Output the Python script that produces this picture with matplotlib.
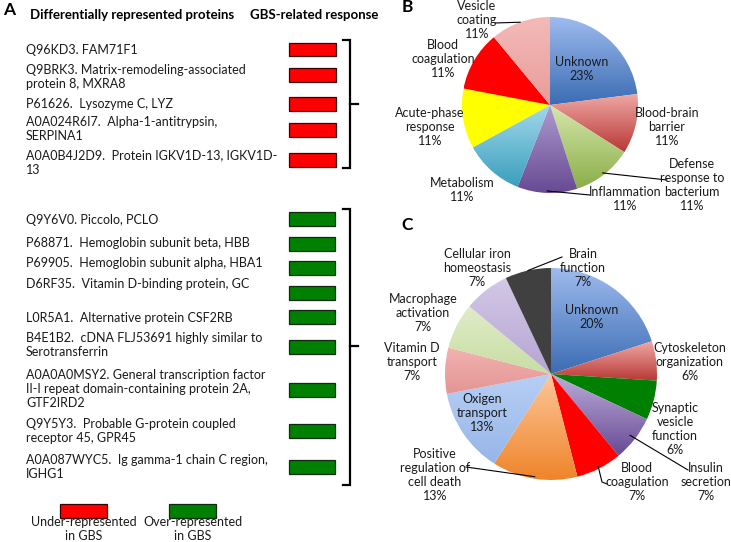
import numpy as np
import matplotlib
matplotlib.use('Agg')
import matplotlib.pyplot as plt
from matplotlib.colors import LinearSegmentedColormap

W, H = 731, 542
plt.rcParams['font.family'] = ['Lato', 'DejaVu Sans']

# panel A: proteins
under_proteins = ['Q96KD3. FAM71F1',
                  'Q9BRK3. Matrix-remodeling-associated\nprotein 8, MXRA8',
                  'P61626.  Lysozyme C, LYZ',
                  'A0A024R6I7.  Alpha-1-antitrypsin,\nSERPINA1',
                  'A0A0B4J2D9.  Protein IGKV1D-13, IGKV1D-\n13']
over_proteins = ['Q9Y6V0. Piccolo, PCLO',
                 'P68871.  Hemoglobin subunit beta, HBB',
                 'P69905.  Hemoglobin subunit alpha, HBA1',
                 'D6RF35.  Vitamin D-binding protein, GC',
                 'L0R5A1.  Alternative protein CSF2RB',
                 'B4E1B2.  cDNA FLJ53691 highly similar to\nSerotransferrin',
                 'A0A0A0MSY2. General transcription factor\nII-I repeat domain-containing protein 2A,\nGTF2IRD2',
                 'Q9Y5Y3.  Probable G-protein coupled\nreceptor 45, GPR45',
                 'A0A087WYC5.  Ig gamma-1 chain C region,\nIGHG1']
legend_labels = ['Under-represented\nin GBS', 'Over-represented\nin GBS']

# panel B
b_labels = ['Unknown', 'Blood-brain\nbarrier', 'Defense\nresponse to\nbacterium', 'Inflammation',
            'Metabolism', 'Acute-phase\nresponse', 'Blood\ncoagulation', 'Vesicle\ncoating']
b_pct = [23, 11, 11, 11, 11, 11, 11, 11]
b_colors = [('#9EBBEE', '#3B6CB3'), ('#F0A9A6', '#B83835'), ('#D5E6AC', '#8BAE47'), ('#AE9BCF', '#674A93'),
            ('#A2D8EC', '#3A9EBD'), ('#FFFF00', '#FFFF00'), ('#FF0000', '#FF0000'), ('#F4BAB8', '#E99C99')]

# panel C
c_labels = ['Unknown', 'Cytoskeleton\norganization', 'Synaptic\nvesicle\nfunction', 'Insulin\nsecretion',
            'Blood\ncoagulation', 'Positive\nregulation of\ncell death', 'Oxigen\ntransport',
            'Vitamin D\ntransport', 'Macrophage\nactivation', 'Cellular iron\nhomeostasis', 'Brain\nfunction']
c_pct = [20, 6, 6, 7, 7, 13, 13, 7, 7, 7, 7]
c_colors = [('#9EBBEE', '#3B6CB3'), ('#F0A9A6', '#B83835'), ('#008000', '#008000'), ('#BCACD9', '#674A93'),
            ('#FF0000', '#FF0000'), ('#FCC79A', '#EF842A'), ('#B8CFF5', '#96B6E8'), ('#F2B3B1', '#E39593'),
            ('#DFECC8', '#C8DDA3'), ('#D3C8E6', '#B5A5D3'), ('#404040', '#404040')]

fig = plt.figure(figsize=(W / 100, H / 100), dpi=100)
ax = fig.add_axes([0, 0, 1, 1])
fs = 9.0
ls = 1.2


def shade(w, c1, c2):
    x0, y0, x1, y1 = w.get_path().get_extents().extents
    cmap = LinearSegmentedColormap.from_list('g', [c1, c2])
    im = ax.imshow(np.linspace(0, 1, 256).reshape(-1, 1), cmap=cmap, extent=(x0, x1, y1, y0),
                   origin='upper', aspect='auto', interpolation='bilinear', zorder=1)
    im.set_clip_path(w)
    w.set_facecolor('none')


def pie(center, r, pct, labels, colors, label_pos):
    wedges, _ = ax.pie(pct, center=center, radius=r, startangle=-90, counterclock=True,
                       wedgeprops=dict(linewidth=0))
    for w, (c1, c2) in zip(wedges, colors):
        shade(w, c1, c2)
    for lab, p, (x, y) in zip(labels, pct, label_pos):
        ax.text(x, y, '%s\n%d%%' % (lab, p), ha='center', va='center', fontsize=fs,
                linespacing=ls, color='#1a1a1a', zorder=5)
    return wedges


def leader(w, pts, r):
    a = np.deg2rad((w.theta1 + w.theta2) / 2)
    cx, cy = w.center
    xs = [cx + r * np.cos(a)] + [p[0] for p in pts]
    ys = [cy + r * np.sin(a)] + [p[1] for p in pts]
    ax.plot(xs, ys, color='black', lw=0.8, zorder=4)


# ---- panel A
ax.text(3, 10, 'A', fontsize=12.5, fontweight='bold', va='center')
ax.text(30, 15, 'Differentially represented proteins', fontsize=9.5, fontweight='bold', va='center')
ax.text(250, 15, 'GBS-related response', fontsize=9.5, fontweight='bold', va='center')

under_y = [50, 76.5, 104, 129.5, 162.5]
over_y = [220, 243, 263, 284, 318, 345.5, 389, 430.5, 466.5]
for s, y in zip(under_proteins + over_proteins, under_y + over_y):
    ax.text(26, y, s, fontsize=fs, va='center', linespacing=ls, color='#1a1a1a')

under_bar_y = [49.5, 75, 104, 130, 160]
over_bar_y = [219, 244, 268, 293, 317, 347, 390, 431, 467]
ax.barh(under_bar_y, 47, height=13.5, left=289, color='#FF0000', edgecolor='#3a0000', lw=0.9)
ax.barh(over_bar_y, 46, height=13.5, left=289, color='#008000', edgecolor='#0f2a0f', lw=0.9)

for top, bot, mid in [(40, 168, 104), (209, 485, 346)]:
    ax.plot([343, 349.5, 349.5, 343], [top, top, bot, bot], color='black', lw=1.6,
            solid_joinstyle='miter')
    ax.plot([349.5, 358], [mid, mid], color='black', lw=1.6)

ax.barh([511, 511], 47, height=14, left=[60, 169], color=['#FF0000', '#008000'],
        edgecolor=['#3a0000', '#0f2a0f'], lw=0.9)
for s, x in zip(legend_labels, [84, 193]):
    ax.text(x, 529, s, ha='center', va='center', fontsize=fs, linespacing=ls, color='#1a1a1a')

# ---- panel B
ax.text(402, 7, 'B', fontsize=12.5, fontweight='bold', va='center')
b_pos = [(582, 68.5), (667, 127), (692, 184.5), (625, 199.5), (462, 190), (430, 127), (443, 59), (477, 20)]
bw = pie((550, 105), 88, b_pct, b_labels, b_colors, b_pos)
leader(bw[7], [(495, 23)], 88)
leader(bw[3], [(590, 195)], 86)
leader(bw[2], [(667, 180)], 86)

# ---- panel C
ax.text(401, 225, 'C', fontsize=12.5, fontweight='bold', va='center')
c_pos = [(592, 317.5), (690, 362), (675, 429), (706, 482), (637, 482), (435, 474.5), (482, 413),
         (412, 362), (423, 313), (477, 267.5), (583, 267.5)]
cw = pie((551, 374), 106, c_pct, c_labels, c_colors, c_pos)
leader(cw[10], [(562, 257)], 106)
leader(cw[3], [(688, 470)], 100)
leader(cw[4], [(602, 482), (607, 484)], 104)
leader(cw[5], [(466, 467)], 104)

ax.set_xlim(0, W)
ax.set_ylim(H, 0)
ax.set_aspect('auto')
ax.axis('off')
fig.savefig('out.png', dpi=100)
